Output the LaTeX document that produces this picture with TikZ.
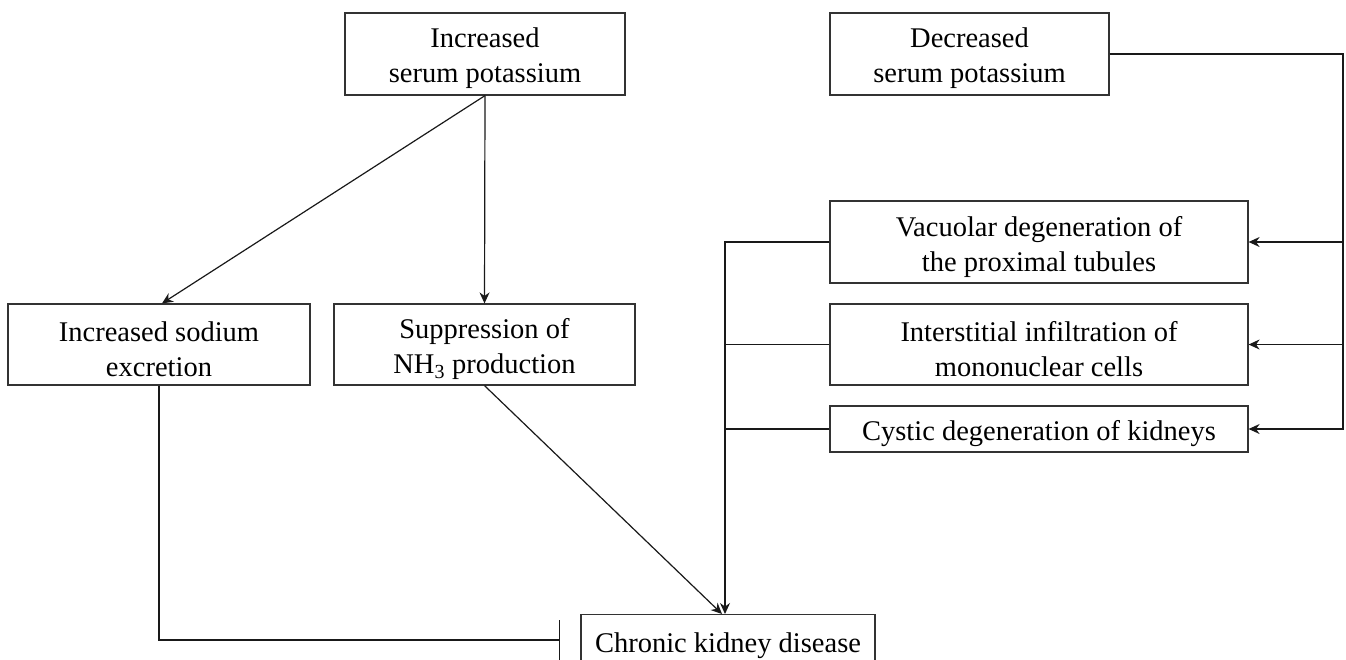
\documentclass[tikz,border=0pt]{standalone}
\usepackage{fontspec}
\setmainfont{Liberation Serif}
\usetikzlibrary{arrows.meta,calc}
\newcommand{\dn}[1]{\raisebox{-4.5pt}[\height][\depth]{#1}}
\begin{document}
\begin{tikzpicture}[x=1pt,y=-1pt,
  box/.style={draw=black!80,line width=1.2pt,inner sep=0pt,align=center,font=\fontsize{28.5}{35}\selectfont},
  conn/.style={line width=1.2pt,draw=black!90},
  arr/.style={conn,-{Stealth[length=11pt,width=10pt]}},
  inh/.style={conn,-{Bar[width=40pt,line width=1.2pt]}}]
\useasboundingbox (0,0) rectangle (1346,659);
\clip (0,0) rectangle (1346,659);
\node[box,minimum width=280,minimum height=82] (isp) at (485,54) {\dn{Increased}\\\dn{serum potassium}};
\node[box,minimum width=279,minimum height=82] (dsp) at (969.5,54) {\dn{Decreased}\\\dn{serum potassium}};
\node[box,minimum width=418,minimum height=82] (vac) at (1039,242) {\dn{Vacuolar degeneration of}\\\dn{the proximal tubules}};
\node[box,minimum width=418,minimum height=81] (int) at (1039,344.5) {\dn{Interstitial infiltration of}\\\dn{mononuclear cells}};
\node[box,minimum width=418,minimum height=46] (cys) at (1039,429) {\dn{Cystic degeneration of kidneys}};
\node[box,minimum width=302,minimum height=81] (sod) at (159,344.5) {\dn{Increased sodium}\\\dn{excretion}};
\node[box,minimum width=301,minimum height=81] (sup) at (484.5,344.5) {\dn{Suppression of}\\\dn{NH\textsubscript{3} production}};
\node[box,minimum width=294,minimum height=54,anchor=north] (ckd) at (728,614) {\dn{Chronic kidney disease}};
\coordinate (ckdin) at ($(ckd.north)+(-3,0)$);
\coordinate (bus) at (725,0);
\coordinate (rx) at (1343,0);
\coordinate (barpt) at (560,640);
% increased serum potassium
\draw[arr] (isp.south) -- ($(sod.north)+(3,0)$);
\draw[arr] (isp.south) -- (sup.north);
% to CKD
\draw[arr] (sup.south) -- ($(ckdin)+(-3,0)$);
\draw[arr] (vac.west) -| (ckdin);
\draw[conn] (int.west) -- (int.west -| bus);
\draw[conn] (cys.west) -- (cys.west -| bus);
% decreased serum potassium
\draw[arr] (dsp.east) -| (cys.east -| rx) -- (cys.east);
\draw[arr] (vac.east -| rx) -- (vac.east);
\draw[arr] (int.east -| rx) -- (int.east);
% sodium inhibition
\draw[inh] (sod.south) |- (barpt);
\end{tikzpicture}
\end{document}
